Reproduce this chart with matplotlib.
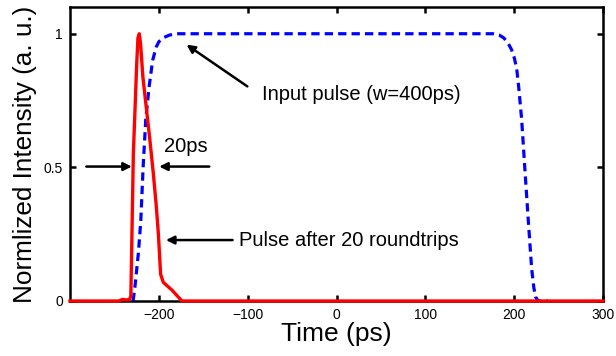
import matplotlib
matplotlib.use("Agg")
import matplotlib.pyplot as plt

plt.rcParams['font.family'] = ['Liberation Sans', 'DejaVu Sans']

# Output pulse after 20 roundtrips (red solid)
red_t = [-300, -245, -241, -237, -233, -231.5, -230, -228.7, -227, -225, -223.5, -222, -220.5,
         -218, -214, -210, -206, -203, -200.5, -198, -195, -190, -185, -179, -174, 300]
red_v = [0, 0, 0.006, 0.004, 0.005, 0.02, 0.3, 0.55, 0.7, 0.88, 0.985, 1.0, 0.96,
         0.84, 0.72, 0.60, 0.47, 0.36, 0.25, 0.10, 0.07, 0.055, 0.04, 0.018, 0, 0]

# Input pulse (blue dashed)
blue_t = [-229, -227, -223, -220.3, -217.7, -214.7, -211, -207, -203, -200, -195, -188, -180,
          176, 183, 188, 193, 197, 200, 202.7, 205, 208.3, 212, 215.8, 219.6, 222, 224, 227, 238]
blue_v = [0, 0.05, 0.18, 0.30, 0.5, 0.68, 0.80, 0.90, 0.95, 0.97, 0.985, 0.995, 1.0,
          1.0, 0.995, 0.985, 0.965, 0.94, 0.91, 0.87, 0.80, 0.68, 0.49, 0.30, 0.12, 0.05, 0.015, 0, 0]

xticks = [-200, -100, 0, 100, 200, 300]
yticks = [0, 0.5, 1]
ytick_labels = ['0', '0.5', '1']

fig = plt.figure(figsize=(6.16, 3.56), dpi=100)
ax = fig.add_axes([0.1136, 0.1545, 0.8655, 0.8258])

ax.plot(blue_t, blue_v, color='#0000ff', lw=2.3, linestyle=(0, (2.6, 1.6)), zorder=3)
ax.plot(red_t, red_v, color='#ff0000', lw=2.4, zorder=4, clip_on=False)

ax.set_xlim(-300, 300)
ax.set_ylim(0, 1.1)
ax.set_xticks(xticks)
ax.set_yticks(yticks)
ax.set_yticklabels(ytick_labels)
ax.tick_params(direction='in', top=True, right=True, length=4, width=1.8,
               labelsize=10, pad=5)
for s in ax.spines.values():
    s.set_linewidth(1.8)

ax.set_xlabel('Time (ps)', fontsize=19, labelpad=0)
ax.set_ylabel('Normlized Intensity (a. u.)', fontsize=18.8, labelpad=5)

ap = dict(arrowstyle='-|>', lw=1.8, color='k', mutation_scale=12, shrinkA=0, shrinkB=0)
ax.annotate('', xy=(-168.8, 0.959), xytext=(-100.4, 0.803), arrowprops=ap)
ax.text(-83.5, 0.772, 'Input pulse (w=400ps)', fontsize=14.5, va='center', ha='left')

ax.annotate('', xy=(-230.4, 0.503), xytext=(-281.6, 0.503), arrowprops=ap)
ax.annotate('', xy=(-199.6, 0.503), xytext=(-143.2, 0.503), arrowprops=ap)
ax.text(-194, 0.578, '20ps', fontsize=14.5, va='center', ha='left')

ax.annotate('', xy=(-192, 0.228), xytext=(-117, 0.228), arrowprops=ap)
ax.text(-109.4, 0.228, 'Pulse after 20 roundtrips', fontsize=14.5, va='center', ha='left')

fig.savefig('out.png', dpi=100)
